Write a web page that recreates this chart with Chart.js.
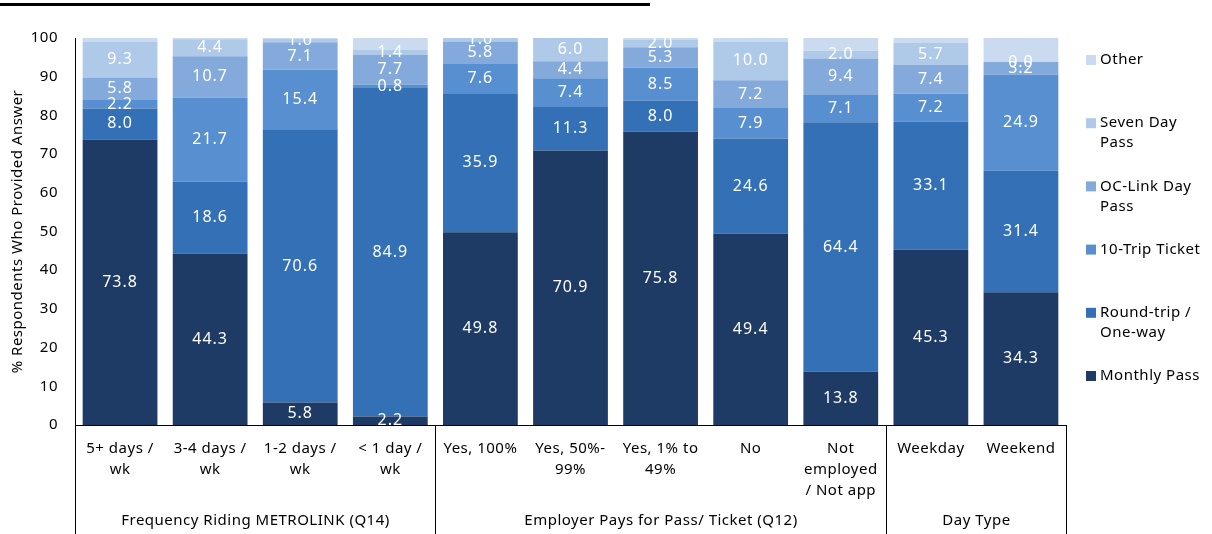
<!DOCTYPE html>
<html>
<head>
<meta charset="utf-8">
<script src="https://cdn.jsdelivr.net/npm/chart.js@4/dist/chart.umd.min.js"></script>
<style>
    body { margin: 0; background: #fff; }
    .wrap { position: relative; width: 1212px; height: 534px; }
    .topline { position: absolute; left: 0; top: 3px; width: 650px; height: 3px; background: #000; }
</style>
</head>
<body>
<div class="wrap">
    <div class="topline"></div>
    <canvas id="myChart" width="1212" height="534"></canvas>
</div>
<script>
const categories = [
    ["5+ days /", "wk"], ["3-4 days /", "wk"], ["1-2 days /", "wk"], ["< 1 day /", "wk"],
    ["Yes, 100%"], ["Yes, 50%-", "99%"], ["Yes, 1% to", "49%"], ["No"], ["Not", "employed", "/ Not app"],
    ["Weekday"], ["Weekend"]
];
const groups = ["Frequency Riding METROLINK (Q14)", "Employer Pays for Pass/ Ticket (Q12)", "Day Type"];
const groupSizes = [4, 5, 2];

const seriesNames = ["Monthly Pass", "Round-trip /\nOne-way", "10-Trip Ticket", "OC-Link Day\nPass", "Seven Day\nPass", "Other"];
const monthlyPass = [73.8, 44.3, 5.8, 2.2, 49.8, 70.9, 75.8, 49.4, 13.8, 45.3, 34.3];
const roundTrip = [8.0, 18.6, 70.6, 84.9, 35.9, 11.3, 8.0, 24.6, 64.4, 33.1, 31.4];
const tenTrip = [2.2, 21.7, 15.4, 0.8, 7.6, 7.4, 8.5, 7.9, 7.1, 7.2, 24.9];
const ocLink = [5.8, 10.7, 7.1, 7.7, 5.8, 4.4, 5.3, 7.2, 9.4, 7.4, 3.2];
const sevenDay = [9.3, 4.4, 1.0, 1.4, 1.0, 6.0, 2.0, 10.0, 2.0, 5.7, 0.0];
const other = [0.9, 0.3, 0.1, 3.0, 0.0, 0.0, 0.4, 0.9, 3.3, 1.3, 6.2];
const yTicks = [0, 10, 20, 30, 40, 50, 60, 70, 80, 90, 100];

const colors = ["#1e3b65", "#3470b6", "#588fd0", "#84aadc", "#afc9e8", "#cadbf0"];
const seriesData = [monthlyPass, roundTrip, tenTrip, ocLink, sevenDay, other];
const FONT = "'Noto Sans', sans-serif";

// the reference text is a bit spaced out
const spacing = {
    id: "spacing",
    beforeUpdate(chart) { chart.ctx.letterSpacing = "0.5px"; },
    beforeDraw(chart) { chart.ctx.letterSpacing = "0.5px"; },
};

// value labels in the middle of each segment (not for "Other")
const valueLabels = {
    id: "valueLabels",
    afterDatasetsDraw(chart) {
        const ctx = chart.ctx;
        ctx.save();
        ctx.letterSpacing = "1px";
        ctx.fillStyle = "#fff";
        ctx.font = "16px " + FONT;
        ctx.textAlign = "center";
        ctx.textBaseline = "middle";
        chart.data.datasets.forEach((ds, i) => {
            if (i === 5) return;
            chart.getDatasetMeta(i).data.forEach((bar, j) => {
                ctx.fillText(ds.data[j].toFixed(1), bar.x, (bar.y + bar.base) / 2);
            });
        });
        ctx.restore();
    }
};

// group labels under the categories, separator lines, legend on the right
const extras = {
    id: "extras",
    afterDraw(chart) {
        const ctx = chart.ctx;
        const x = chart.scales.x;
        const area = chart.chartArea;
        const step = x.getPixelForValue(1) - x.getPixelForValue(0);
        ctx.save();
        ctx.strokeStyle = "#000";
        ctx.lineWidth = 1;
        ctx.fillStyle = "#000";
        ctx.font = "15px " + FONT;
        ctx.textAlign = "center";
        ctx.textBaseline = "middle";
        let start = 0;
        const edge = (idx) => Math.round(x.getPixelForValue(idx) - step / 2) + 0.5;
        ctx.beginPath();
        ctx.moveTo(edge(0), area.bottom);
        ctx.lineTo(edge(0), chart.height);
        ctx.stroke();
        groups.forEach((g, gi) => {
            const end = start + groupSizes[gi];
            ctx.beginPath();
            ctx.moveTo(edge(end), area.bottom);
            ctx.lineTo(edge(end), chart.height);
            ctx.stroke();
            ctx.fillText(g, (edge(start) + edge(end)) / 2, 521);
            start = end;
        });

        // legend
        ctx.textAlign = "left";
        const n = chart.data.datasets.length;
        for (let k = 0; k < n; k++) {
            const ds = chart.data.datasets[n - 1 - k];
            const top = 60 + k * 63.2;
            ctx.fillStyle = ds.backgroundColor;
            ctx.fillRect(1086, top - 5, 10, 10);
            ctx.fillStyle = "#000";
            ds.label.split("\n").forEach((line, li) => {
                ctx.fillText(line, 1100, top + li * 20);
            });
        }
        ctx.restore();
    }
};

new Chart(document.getElementById("myChart"), {
    type: "bar",
    data: {
        labels: categories,
        datasets: seriesData.map((d, i) => ({
            label: seriesNames[i],
            data: d,
            backgroundColor: colors[i],
            categoryPercentage: 1,
            barPercentage: 0.83,
        })),
    },
    options: {
        responsive: false,
        animation: false,
        layout: { padding: { top: 38, right: 146, left: 0, bottom: 0 } },
        plugins: { legend: { display: false }, tooltip: { enabled: false } },
        scales: {
            x: {
                stacked: true,
                grid: { display: false },
                border: { display: true, color: "#000" },
                ticks: { color: "#000", font: { family: FONT, size: 15, lineHeight: 1.4 }, padding: 5, maxRotation: 0, autoSkip: false },
                afterFit: (scale) => { scale.height = 109; },
            },
            y: {
                stacked: true,
                min: 0,
                max: 100,
                afterBuildTicks: (scale) => { scale.ticks = yTicks.map((v) => ({ value: v })); },
                grid: { display: false },
                border: { display: true, color: "#000" },
                ticks: { color: "#000", font: { family: FONT, size: 15 }, padding: 9 },
                title: { display: true, text: "% Respondents Who Provided Answer", color: "#000", font: { family: FONT, size: 15 }, padding: { top: 9, bottom: 0 } },
                afterFit: (scale) => { scale.width = 75; },
            },
        },
    },
    plugins: [spacing, valueLabels, extras],
});
</script>
</body>
</html>
